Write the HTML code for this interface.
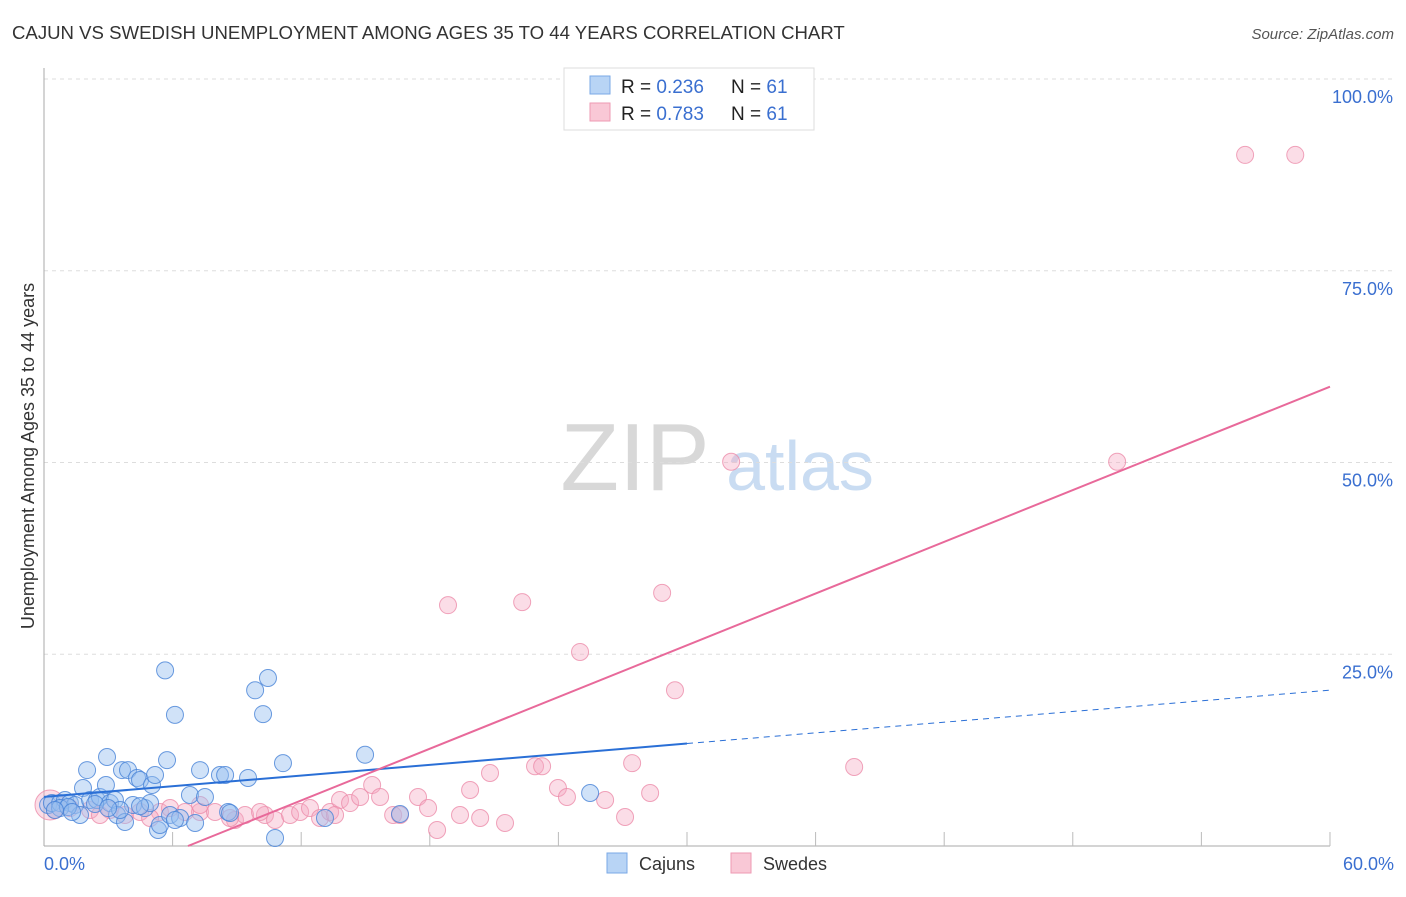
<!DOCTYPE html>
<html><head><meta charset="utf-8"><style>
body{margin:0;background:#fff;font-family:"Liberation Sans",sans-serif;}
svg text{font-family:"Liberation Sans",sans-serif;}
</style></head><body>
<svg id="chart" width="1406" height="892" xmlns="http://www.w3.org/2000/svg">
<text x="12" y="39" font-size="18.6" fill="#333">CAJUN VS SWEDISH UNEMPLOYMENT AMONG AGES 35 TO 44 YEARS CORRELATION CHART</text>
<text x="1394" y="39" font-size="15" fill="#555" text-anchor="end" font-style="italic">Source: ZipAtlas.com</text>
<g>
<text x="635" y="490" font-size="96" fill="#d8d8d8" text-anchor="middle" font-family="Liberation Serif">ZIP</text>
<text x="800" y="490" font-size="70" fill="#c9dcf2" text-anchor="middle">atlas</text>
</g>
<g id="grid"></g>
<g id="axes"></g>
<g id="marks"></g>
<g>
<rect x="564" y="68" width="250" height="62" fill="#fff" stroke="#ddd"/>
<rect x="590" y="76" width="20" height="18" fill="#b8d4f5" stroke="#7aa8e6"/>
<rect x="590" y="103" width="20" height="18" fill="#f9c8d6" stroke="#ee9ab3"/>
<text x="621" y="93" font-size="19" fill="#222">R = <tspan fill="#3a6fd0">0.236</tspan></text>
<text x="731" y="93" font-size="19" fill="#222">N = <tspan fill="#3a6fd0">61</tspan></text>
<text x="621" y="120" font-size="19" fill="#222">R = <tspan fill="#3a6fd0">0.783</tspan></text>
<text x="731" y="120" font-size="19" fill="#222">N = <tspan fill="#3a6fd0">61</tspan></text>
</g>
<g>
<rect x="607" y="853" width="20" height="20" fill="#b8d4f5" stroke="#7aa8e6"/>
<text x="639" y="870" font-size="18" fill="#333">Cajuns</text>
<rect x="731" y="853" width="20" height="20" fill="#f9c8d6" stroke="#ee9ab3"/>
<text x="763" y="870" font-size="18" fill="#333">Swedes</text>
</g>
<text transform="translate(34,456) rotate(-90)" font-size="18" fill="#333" text-anchor="middle">Unemployment Among Ages 35 to 44 years</text>
</svg>
<script>
const cajunX=[0.19,0.37,0.75,0.98,1.21,1.45,1.68,1.82,2.01,2.15,2.47,2.61,2.89,2.94,3.08,3.31,3.41,3.64,3.78,3.92,4.15,4.34,4.48,4.71,4.95,5.04,5.18,5.32,5.41,5.65,5.74,5.88,6.11,6.35,6.81,7.05,7.28,7.51,8.21,8.45,8.59,9.52,9.85,10.22,10.45,10.78,11.15,13.11,14.98,16.61,25.48,0.75,1.12,2.38,3.55,6.11,8.68,4.48,2.99,0.51,1.31];
const cajunY=[5.35,5.6,5.6,6.0,5.6,5.35,4.04,7.56,9.9,6.0,6.0,6.39,7.95,11.6,5.6,6.0,4.04,9.9,3.13,9.9,5.35,8.87,8.6,4.95,5.6,7.95,9.26,2.09,2.74,22.9,11.2,4.04,17.1,3.65,6.65,3.0,9.9,6.39,9.26,9.26,4.43,8.87,20.3,17.2,21.9,1.04,10.8,3.65,11.9,4.17,6.91,4.95,5.08,5.48,4.69,3.39,4.3,5.2,4.95,4.69,4.43];
const swedeX=[0.28,0.51,1.21,2.15,3.08,3.78,4.48,5.41,5.88,6.58,7.28,7.98,8.91,9.38,10.31,10.78,11.48,11.95,12.41,12.88,13.35,13.81,14.28,14.75,15.31,15.68,16.29,16.61,17.45,17.92,18.34,18.85,19.41,19.88,20.35,20.81,21.51,22.31,22.91,23.24,23.98,24.4,25.01,26.18,27.11,27.44,28.28,28.84,29.44,32.06,37.8,50.07,56.04,58.38,7.28,10.08,4.95,2.61,8.68,13.58];
const swedeY=[5.35,4.69,4.95,4.69,4.69,4.04,4.43,4.43,4.95,4.43,4.43,4.43,3.39,4.04,4.04,3.39,4.04,4.43,4.95,3.65,4.43,6.0,5.6,6.39,7.95,6.39,4.04,4.04,6.39,4.95,2.09,31.4,4.04,7.3,3.65,9.52,3.0,31.8,10.4,10.4,7.56,6.39,25.3,6.0,3.78,10.8,6.91,33.0,20.3,50.1,10.3,50.1,90.1,90.1,5.35,4.43,3.65,4.04,3.65,4.04];
const cajunTrend=[6.4,0.232];   // intercept, slope
const swedeTrend=[-7.55,1.124];
const yTicks=[25,50,75,100];
const yTickLabels=["25.0%","50.0%","75.0%","100.0%"];
const xTicks=[0,6,12,18,24,30,36,42,48,54,60];

const NS="http://www.w3.org/2000/svg";
const X=v=>44+v*21.433;
const Y=v=>846-v*7.67;
function mk(tag,attrs,parent){const e=document.createElementNS(NS,tag);for(const k in attrs)e.setAttribute(k,attrs[k]);parent.appendChild(e);return e;}
const grid=document.getElementById('grid'),axes=document.getElementById('axes'),marks=document.getElementById('marks');
yTicks.forEach((t,i)=>{
  const l=mk('line',{x1:44,x2:1394,y1:Y(t),y2:Y(t),stroke:'#ddd','stroke-dasharray':'4,4'},grid);
  
  
  const tx=mk('text',{x:1393,y:Y(t)+24,'font-size':18,fill:'#3a6fd0','text-anchor':'end'},axes);
  tx.textContent=yTickLabels[i];
  
  
});
const xa=mk('line',{x1:44,x2:1330,y1:846,y2:846,stroke:'#aaa'},axes);


const ya=mk('line',{x1:44,x2:44,y1:68,y2:846,stroke:'#aaa'},axes);


xTicks.forEach(t=>{
  if(t===0)return;
  const l=mk('line',{x1:X(t),x2:X(t),y1:832,y2:846,stroke:'#bbb'},axes);
  
  
});
const xl0=mk('text',{x:44,y:870,'font-size':18,fill:'#3a6fd0'},axes);xl0.textContent='0.0%';


const xl1=mk('text',{x:1394,y:870,'font-size':18,fill:'#3a6fd0','text-anchor':'end'},axes);xl1.textContent='60.0%';



swedeX.forEach((v,i)=>{
  const c=mk('circle',{cx:X(v),cy:Y(swedeY[i]),r:i===0?15:8.5,fill:'rgba(246,170,195,0.4)',stroke:'rgba(236,140,170,0.8)','stroke-width':1},marks);
  
  
});
cajunX.forEach((v,i)=>{
  const c=mk('circle',{cx:X(v),cy:Y(cajunY[i]),r:8.5,fill:'rgba(150,190,240,0.45)',stroke:'rgba(70,130,215,0.8)','stroke-width':1},marks);
  
  
});
const cy=x=>cajunTrend[0]+cajunTrend[1]*x, sy=x=>swedeTrend[0]+swedeTrend[1]*x;
const b1=mk('line',{x1:X(0),y1:Y(cy(0)),x2:X(30),y2:Y(cy(30)),stroke:'#2a6fd6','stroke-width':2},marks);


const b2=mk('line',{x1:X(30),y1:Y(cy(30)),x2:X(60),y2:Y(cy(60)),stroke:'#2a6fd6','stroke-width':1,'stroke-dasharray':'6,5'},marks);


const x0=-swedeTrend[0]/swedeTrend[1];
const p1=mk('line',{x1:X(x0),y1:Y(0),x2:X(60),y2:Y(sy(60)),stroke:'#e8699a','stroke-width':2},marks);


</script>
</body></html>
